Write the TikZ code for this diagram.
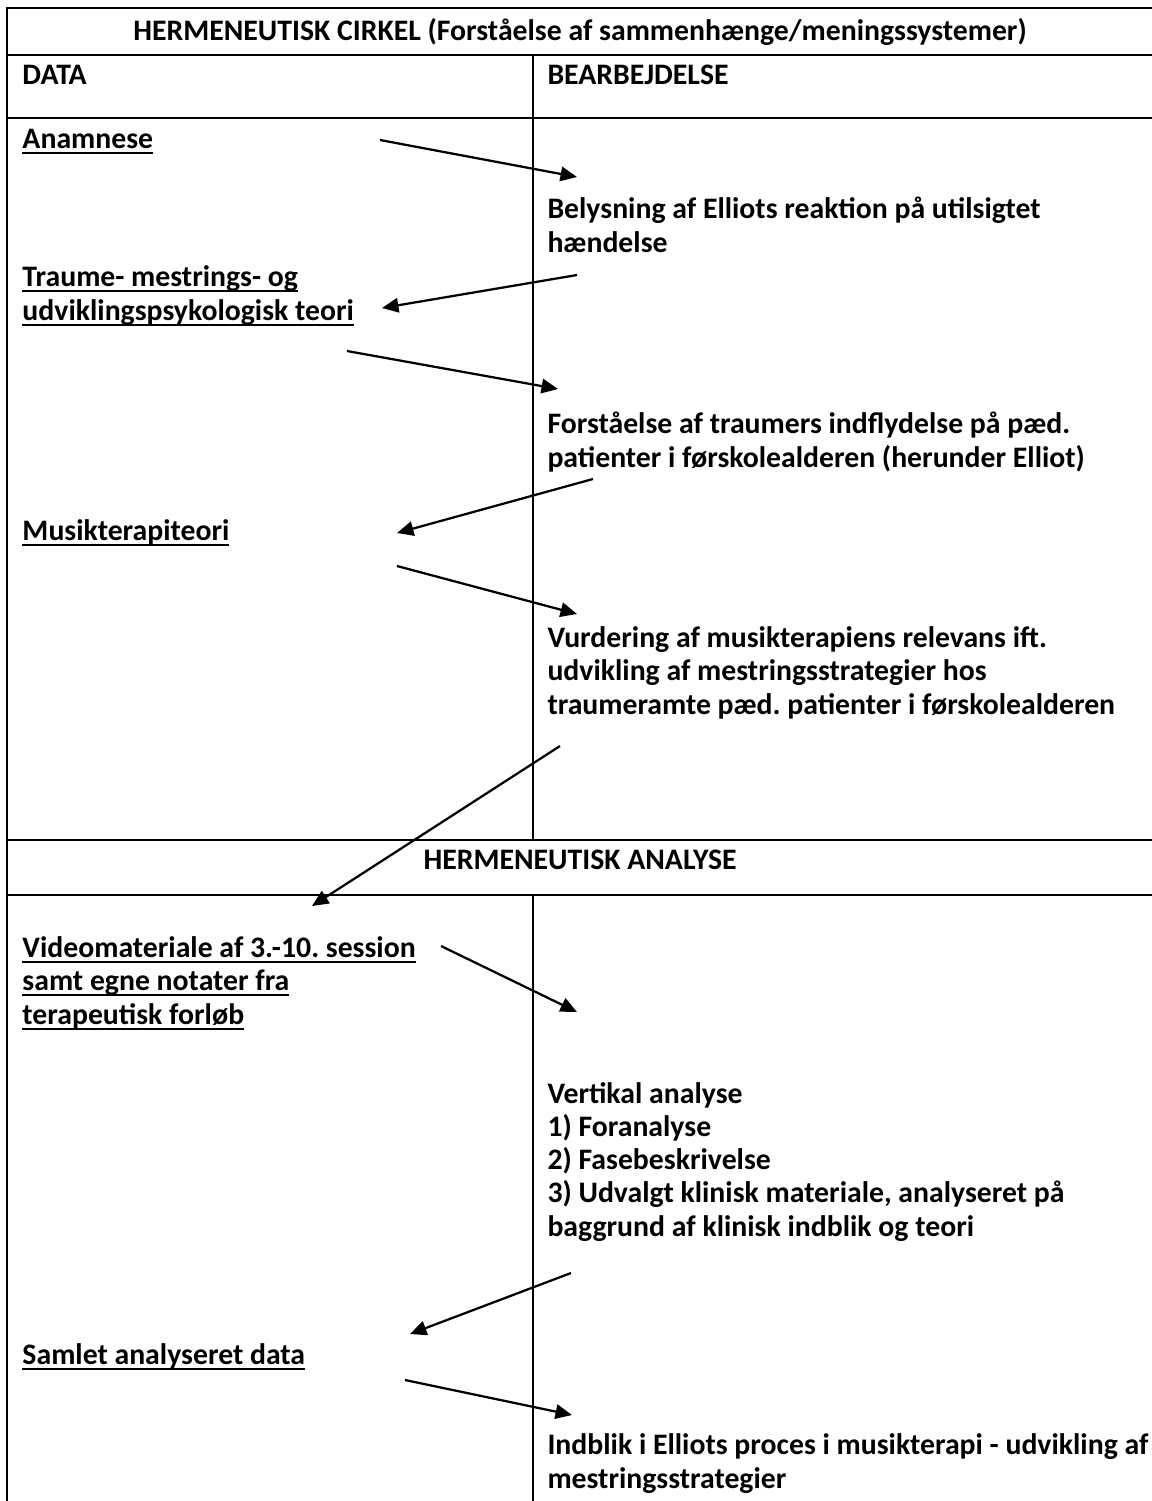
\documentclass[tikz,border=0pt]{standalone}
\usepackage{fontspec}
\setmainfont{Carlito}
\frenchspacing
\newcommand{\myul}[1]{\setbox0\hbox{#1}\rlap{\rule[-2.2pt]{\wd0}{0.8pt}}\box0}
\usetikzlibrary{arrows.meta}
\tikzset{
  txt/.style={anchor=base west, inner sep=0pt, align=left, font=\bfseries\fontsize{11.9}{13.3}\selectfont},
  ctxt/.style={anchor=base, inner sep=0pt, font=\bfseries\fontsize{11.9}{13.3}\selectfont},
  rule/.style={line width=1.1pt},
  divider/.style={line width=0.8pt},
  flow/.style={line width=0.9pt, -{Triangle[length=6.6pt,width=5.8pt]}},
}
\begin{document}
\begin{tikzpicture}[x=0.4pt,y=-0.4pt]
\useasboundingbox (0,0) rectangle (1152,1501);
% table lines
\draw[rule] (1152,8) -- (7,8) -- (7,1501);
\draw[rule] (7,55) -- (1152,55);
\draw[rule] (7,118) -- (1152,118);
\draw[rule] (7,840) -- (1152,840);
\draw[rule] (7,895) -- (1152,895);
\draw[divider] (533,55) -- (533,840);
\draw[divider] (533,895) -- (533,1501);
% headings (multi-line nodes: y is the baseline of the last line)
\node[ctxt] (title) at (580,40) {HERMENEUTISK CIRKEL (Forståelse af sammenhænge/meningssystemer)};
\node[txt] (data) at (22,84) {DATA};
\node[txt] (bear) at (547,84) {BEARBEJDELSE};
\node[ctxt] (analyse) at (580,869) {HERMENEUTISK ANALYSE};
% data column
\node[txt] (anam) at (22,148) {\myul{Anamnese}};
\node[txt] (traume) at (22,320) {\myul{Traume- mestrings- og}\\\myul{udviklingspsykologisk teori}};
\node[txt] (musik) at (22,540) {\myul{Musikterapiteori}};
\node[txt] (video) at (22,1024) {\myul{Videomateriale af 3.-10. session}\\\myul{samt egne notater fra}\\\myul{terapeutisk forløb}};
\node[txt] (samlet) at (22,1364) {\myul{Samlet analyseret data}};
% processing column
\node[txt] (belys) at (547,252) {Belysning af Elliots reaktion på utilsigtet\\hændelse};
\node[txt] (forst) at (547,467) {Forståelse af traumers indflydelse på pæd.\\patienter i førskolealderen (herunder Elliot)};
\node[txt] (vurd) at (547,714) {Vurdering af musikterapiens relevans ift.\\udvikling af mestringsstrategier hos\\traumeramte pæd. patienter i førskolealderen};
\node[txt] (vert) at (547,1236) {Vertikal analyse\\1) Foranalyse\\2) Fasebeskrivelse\\3) Udvalgt klinisk materiale, analyseret på\\baggrund af klinisk indblik og teori};
\node[txt] (indblik) at (547,1488) {Indblik i Elliots proces i musikterapi - udvikling af\\mestringsstrategier};
% arrow end points
\coordinate (a1s) at (380,140); \coordinate (a1e) at (577,177);
\coordinate (a2s) at (577,275); \coordinate (a2e) at (382,308);
\coordinate (a3s) at (347,351); \coordinate (a3e) at (558,389);
\coordinate (a4s) at (593,479); \coordinate (a4e) at (397,533);
\coordinate (a5s) at (397,566); \coordinate (a5e) at (577,614);
\coordinate (a6s) at (560,746); \coordinate (a6e) at (312,906);
\coordinate (a7s) at (441,946); \coordinate (a7e) at (577,1012);
\coordinate (a8s) at (571,1273); \coordinate (a8e) at (410,1334);
\coordinate (a9s) at (405,1380); \coordinate (a9e) at (572,1415);
\foreach \i in {1,...,9} \draw[flow] (a\i s) -- (a\i e);
\end{tikzpicture}
\end{document}
